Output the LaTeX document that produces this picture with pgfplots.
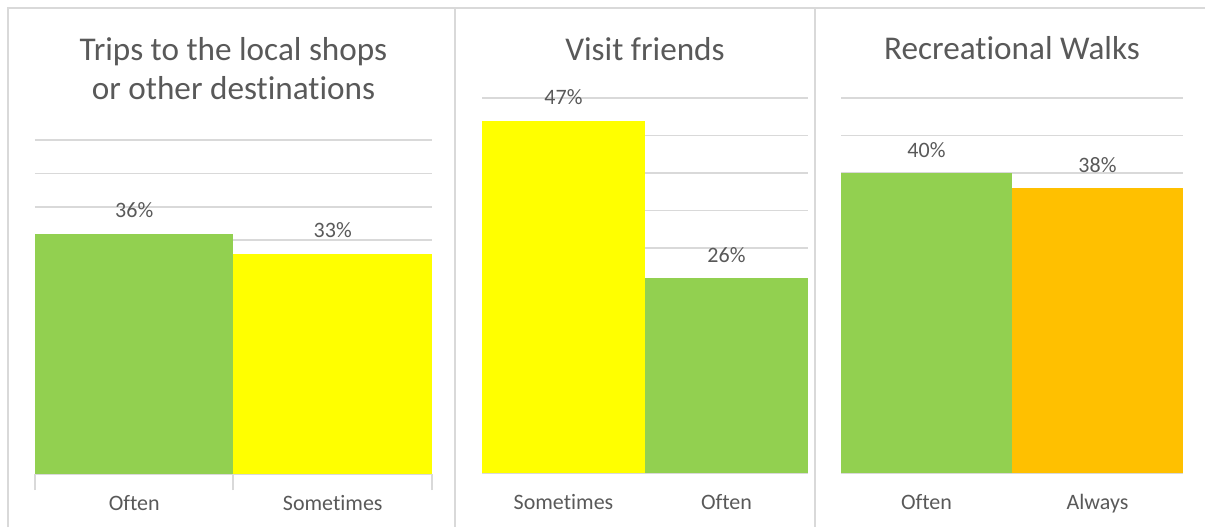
\documentclass[border=0pt]{standalone}
\usepackage{pgfplots}
\pgfplotsset{compat=1.18}
\usepackage{fontspec}
\setmainfont{Carlito}[RawFeature={-liga;-clig;-calt;-dlig}]
\definecolor{cgreen}{HTML}{92D050}
\definecolor{cyellow}{HTML}{FFFF00}
\definecolor{corange}{HTML}{FFC000}
\definecolor{ctext}{HTML}{595959}
\definecolor{cline}{HTML}{D9D9D9}
\pgfplotsset{
  panel/.style={
    scale only axis,
    ybar, bar width=1, bar shift=0pt,
    ymin=0, ymax=50, xmin=-0.5, xmax=1.5,
    ytick={5,10,...,50}, yticklabels={},
    ymajorgrids, grid style={cline, line width=0.75pt},
    axis x line*=bottom, axis y line*=left,
    y axis line style={draw=none},
    x axis line style={cline, line width=1pt},
    xtick={0,1},
    major tick length=0pt,
    tick style={draw=none},
    xticklabel style={anchor=base, inner sep=0pt, yshift=-18pt, text=ctext, font=\fontsize{11}{13}\selectfont},
    /pgf/number format/assume math mode=true,
    nodes near coords={\pgfmathprintnumber[fixed,precision=0]{\pgfplotspointmeta}\%},
    every node near coord/.append style={anchor=base, inner sep=0pt, yshift=8pt, text=ctext, font=\fontsize{11}{13}\selectfont},
    clip=false,
  }
}
\begin{document}
\begin{tikzpicture}
\useasboundingbox (0,0) rectangle (602.5pt,-263.5pt);
% frame
\draw[cline, line width=0.75pt] (4pt,-263.5pt) -- (4pt,-4pt) -- (602.5pt,-4pt);
\draw[cline, line width=0.75pt] (227.5pt,-4pt) -- (227.5pt,-263.5pt);
\draw[cline, line width=0.75pt] (407.5pt,-4pt) -- (407.5pt,-263.5pt);

\begin{axis}[panel, at={(17.5pt,-237pt)}, anchor=south west,
  width=198.5pt, height=167pt,
  xticklabels={Often,Sometimes},
  extra x ticks={-0.5,0.5,1.5}, extra x tick labels={},
  extra x tick style={major tick length=8pt, tick align=outside, tick style={draw=cline, line width=1pt}, grid=none}]
\addplot[fill=cgreen, draw=none] coordinates {(0,36)};
\addplot[fill=cyellow, draw=none] coordinates {(1,33)};
\end{axis}

\begin{axis}[panel, at={(241pt,-236.5pt)}, anchor=south west,
  width=163pt, height=187.5pt,
  xticklabels={Sometimes,Often}]
\addplot[fill=cyellow, draw=none] coordinates {(0,47)};
\addplot[fill=cgreen, draw=none] coordinates {(1,26)};
\end{axis}

\begin{axis}[panel, at={(420.5pt,-236.5pt)}, anchor=south west,
  width=171pt, height=187.5pt,
  xticklabels={Often,Always}]
\addplot[fill=cgreen, draw=none] coordinates {(0,40)};
\addplot[fill=corange, draw=none] coordinates {(1,38)};
\end{axis}

% titles
\node[anchor=base, text=ctext, font=\fontsize{16.6}{20}\selectfont, inner sep=0pt] at (116.75pt,-30pt) {Trips to the local shops};
\node[anchor=base, text=ctext, font=\fontsize{16.6}{20}\selectfont, inner sep=0pt] at (116.75pt,-49.5pt) {or other destinations};
\node[anchor=base, text=ctext, font=\fontsize{16.6}{20}\selectfont, inner sep=0pt] at (322.5pt,-30pt) {Visit friends};
\node[anchor=base, text=ctext, font=\fontsize{16.6}{20}\selectfont, inner sep=0pt] at (506pt,-29.5pt) {Recreational Walks};
\end{tikzpicture}
\end{document}
